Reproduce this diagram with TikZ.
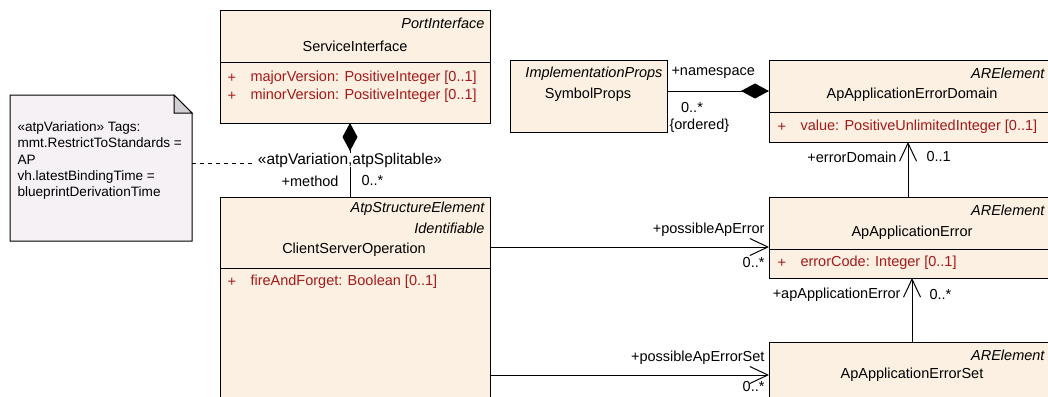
\documentclass[tikz,border=0pt]{standalone}
\usepackage{fontspec}
\setmainfont{Liberation Sans}
\usetikzlibrary{arrows.meta,calc}
\definecolor{boxfill}{RGB}{251,240,225}
\definecolor{attrred}{RGB}{165,25,25}
\definecolor{notefill}{RGB}{245,241,245}
\definecolor{foldfill}{RGB}{210,207,212}
\tikzset{
  cls/.style={draw=black, fill=boxfill, anchor=north west, inner sep=0pt, outer sep=0pt},
  ster/.style={anchor=east, inner sep=0pt, font=\fontsize{14.5}{17}\selectfont\itshape},
  cname/.style={anchor=center, inner sep=0pt},
  attrtxt/.style={anchor=west, inner sep=0pt, text=attrred},
  lbl/.style={inner sep=0pt},
  comp/.style={{Diamond[length=28pt,width=15pt]}-},
  navi/.style={-{Straight Barb[length=18pt,width=17pt]}},
  notelink/.style={dash pattern=on 4pt off 4pt}
}
\begin{document}
\begin{tikzpicture}[x=1pt,y=-1pt,line width=1pt,font=\fontsize{14.5}{17}\selectfont]
\clip (0,0) rectangle (1048,396);
\fill[white] (0,0) rectangle (1048,396);

% note
\draw[fill=notefill] (10,95) -- (174,95) -- (192,113) -- (192,241) -- (10,241) -- cycle;
\draw[fill=foldfill] (174,95) -- (174,113) -- (192,113) -- cycle;
\node[anchor=west, align=left, inner sep=0pt, font=\fontsize{13.6}{16.3}\selectfont] (notetext) at (17,160.5)
  {«atpVariation» Tags:\\mmt.RestrictToStandards =\\AP\\vh.latestBindingTime =\\blueprintDerivationTime};
\coordinate (noteport) at (192,163);

% ServiceInterface
\node[cls, minimum width=270pt, minimum height=112pt] (si) at (220,11) {};
\draw (220,62) -- (490,62);
\node[ster] (siS) at (485,23) {PortInterface};
\node[cname] (siN) at (355,46) {ServiceInterface};
\node[attrtxt] (siP1) at (227,78) {+};
\node[attrtxt] (siA1) at (250,78) {majorVersion: PositiveInteger [0..1]};
\node[attrtxt] (siP2) at (227,96) {+};
\node[attrtxt] (siA2) at (250,96) {minorVersion: PositiveInteger [0..1]};

% ClientServerOperation
\node[cls, minimum width=270pt, minimum height=215pt] (cso) at (220,197) {};
\draw (220,268) -- (490,268);
\node[ster] (csoS1) at (485,209) {AtpStructureElement};
\node[ster] (csoS2) at (485,228) {Identifiable};
\node[cname] (csoN) at (354,250) {ClientServerOperation};
\node[attrtxt] (csoP1) at (227,282) {+};
\node[attrtxt] (csoA1) at (250,282) {fireAndForget: Boolean [0..1]};

% SymbolProps
\node[cls, minimum width=157pt, minimum height=72pt] (sp) at (510,60) {};
\node[ster] (spS) at (663,74) {ImplementationProps};
\node[cname] (spN) at (588,95) {SymbolProps};

% ApApplicationErrorDomain
\node[cls, minimum width=287pt, minimum height=82pt] (dom) at (769,60) {};
\draw (769,112) -- (1056,112);
\node[ster] (domS) at (1045,73) {ARElement};
\node[cname] (domN) at (912,95) {ApApplicationErrorDomain};
\node[attrtxt] (domP1) at (777,127) {+};
\node[attrtxt] (domA1) at (800,127) {value: PositiveUnlimitedInteger [0..1]};

% ApApplicationError
\node[cls, minimum width=287pt, minimum height=81pt] (err) at (769,197) {};
\draw (769,249) -- (1056,249);
\node[ster] (errS) at (1045,210) {ARElement};
\node[cname] (errN) at (912,233) {ApApplicationError};
\node[attrtxt] (errP1) at (777,263) {+};
\node[attrtxt] (errA1) at (800,263) {errorCode: Integer [0..1]};

% ApApplicationErrorSet
\node[cls, minimum width=287pt, minimum height=70pt] (set) at (769,342) {};
\node[ster] (setS) at (1045,355) {ARElement};
\node[cname] (setN) at (912,375) {ApApplicationErrorSet};

% levels of the connectors
\coordinate (yNS) at (0,91);
\coordinate (yPE) at (0,247);
\coordinate (yPS) at (0,375);
\coordinate (xMeth) at (350,0);
\coordinate (xED) at (908,0);
\coordinate (xAE) at (912,0);

% connectors
\draw[comp] (si.south -| xMeth) -- (cso.north -| xMeth);
\node[lbl, fill=white, font=\fontsize{15.5}{17}\selectfont] (stLbl) at (350,160) {«atpVariation,atpSplitable»};
\node[lbl, anchor=east] (mRole) at (339,181) {+method};
\node[lbl, anchor=west] (mMult) at (361,181) {0..*};
\draw[notelink] (noteport) -- ([xshift=-3pt]stLbl.west |- noteport);

\draw[comp] (dom.west |- yNS) -- (sp.east |- yNS);
\node[lbl, anchor=west] (nsRole) at (671,73) {+namespace};
\node[lbl] (nsMult) at (692,108) {0..*};
\node[lbl, anchor=west] (nsOrd) at (669,126) {\{ordered\}};

\draw[navi] (cso.east |- yPE) -- (err.west |- yPE);
\node[lbl, anchor=east] (peRole) at (765,230) {+possibleApError};
\node[lbl, anchor=east] (peMult) at (765,263) {0..*};

\draw[navi] (cso.east |- yPS) -- (set.west |- yPS);
\node[lbl, anchor=east] (psRole) at (765,358) {+possibleApErrorSet};
\node[lbl, anchor=east] (psMult) at (765,387) {0..*};

\draw[navi] (err.north -| xED) -- (dom.south -| xED);
\node[lbl, anchor=east] (edRole) at (897,157) {+errorDomain};
\node[lbl, anchor=west] (edMult) at (926,157) {0..1};

\draw[navi] (set.north -| xAE) -- (err.south -| xAE);
\node[lbl, anchor=east] (aeRole) at (901,295) {+apApplicationError};
\node[lbl, anchor=west] (aeMult) at (929,295) {0..*};
\end{tikzpicture}
\end{document}
